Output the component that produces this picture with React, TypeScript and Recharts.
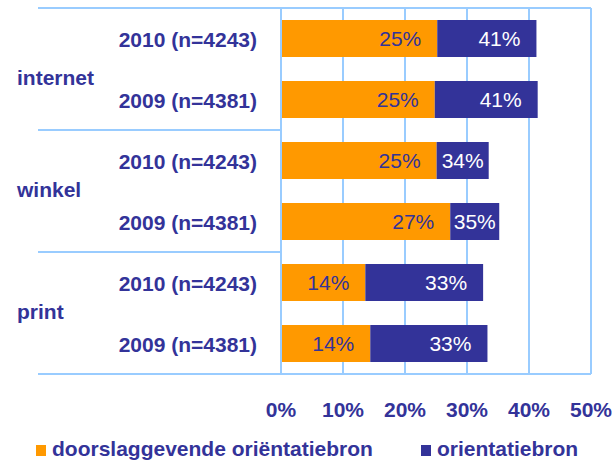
import React from 'react';
import { BarChart, Bar, XAxis, YAxis, CartesianGrid, LabelList, Legend } from 'recharts';

const groups = ['internet', 'winkel', 'print'];
const categories = [
  '2010 (n=4243)', '2009 (n=4381)',
  '2010 (n=4243)', '2009 (n=4381)',
  '2010 (n=4243)', '2009 (n=4381)',
];
const doorslaggevend = [25.2, 24.8, 25.1, 27.3, 13.6, 14.4];
const orientatieTotaal = [41.2, 41.4, 33.5, 35.2, 32.6, 33.3];
const xTicks = [0, 10, 20, 30, 40, 50];
const seriesNames = ['doorslaggevende oriëntatiebron', 'orientatiebron'];

const ORANGE = '#FF9900';
const PURPLE = '#333399';
const TEXT = '#333399';
const GRID = '#99CCFF';
const FONT = '"Liberation Sans", Arial, sans-serif';
const groupLabelDy = [16, 6, 6];

const data = categories.map((c, i) => ({
  id: `${groups[Math.floor(i / 2)]}|${c}|${i}`,
  idx: i,
  cat: c,
  door: doorslaggevend[i],
  orient: +(orientatieTotaal[i] - doorslaggevend[i]).toFixed(2),
  doorLabel: `${Math.round(doorslaggevend[i])}%`,
  orientLabel: `${Math.round(orientatieTotaal[i])}%`,
}));

const BAND = 61;

const YTick = (props: any) => {
  const { x, y, payload, index } = props;
  const i = typeof index === 'number' ? index : data.findIndex((d) => d.id === payload.value);
  const row = data[i];
  const axisX = x + 8;
  const els: any[] = [];
  els.push(
    <text key="t" x={x - 16} y={y + 8} textAnchor="end" fontFamily={FONT} fontWeight="bold" fontSize={21} fill={TEXT}>
      {row ? row.cat : ''}
    </text>
  );
  if (i % 2 === 0) {
    const g = Math.floor(i / 2);
    els.push(
      <line key="sep" x1={38} x2={i === 0 ? 591 : axisX} y1={y - BAND / 2} y2={y - BAND / 2} stroke={GRID} strokeWidth={2} />
    );
    els.push(
      <text key="g" x={17} y={y + BAND / 2 + groupLabelDy[g]} textAnchor="start" fontFamily={FONT} fontWeight="bold" fontSize={21} fill={TEXT}>
        {groups[g]}
      </text>
    );
  }
  if (i === data.length - 1) {
    els.push(
      <line key="bot" x1={38} x2={591} y1={y + BAND / 2} y2={y + BAND / 2} stroke={GRID} strokeWidth={2} />
    );
  }
  return <g>{els}</g>;
};

const XTick = (props: any) => {
  const { x, y, payload } = props;
  return (
    <text x={x} y={y + 35} textAnchor="middle" fontFamily={FONT} fontWeight="bold" fontSize={21} fill={TEXT}>
      {`${payload.value}%`}
    </text>
  );
};

const makeLabel = (color: string) => (props: any) => {
  const { x, y, width, height, value } = props;
  const wide = width >= 70;
  const tx = wide ? x + width - 16 : x + width / 2;
  return (
    <text x={tx} y={y + height / 2 + 7.5} textAnchor={wide ? 'end' : 'middle'} fontFamily={FONT} fontSize={21} fill={color}>
      {value}
    </text>
  );
};

const LegendContent = (props: any) => {
  const { payload } = props;
  return (
    <div style={{ display: 'flex', gap: 48, paddingLeft: 36, fontFamily: FONT, fontWeight: 'bold', fontSize: 21, lineHeight: '24px', color: TEXT, whiteSpace: 'nowrap' }}>
      {(payload || []).map((p: any) => (
        <span key={p.value}>
          <span style={{ display: 'inline-block', width: 10, height: 11, background: p.color, marginRight: 6, verticalAlign: 'baseline' }} />
          {p.value}
        </span>
      ))}
    </div>
  );
};

export default function App() {
  return (
    <div style={{ position: 'absolute', left: 0, top: 0, width: 612, height: 460, background: '#fff' }}>
      <BarChart
        width={612}
        height={460}
        data={data}
        layout="vertical"
        margin={{ top: 8, right: 21, bottom: 56, left: 0 }}
        barSize={37}
      >
        <CartesianGrid horizontal={false} vertical={true} stroke={GRID} strokeWidth={2} />
        <XAxis
          type="number"
          domain={[0, 50]}
          ticks={xTicks}
          axisLine={false}
          tickLine={false}
          height={30}
          tick={<XTick />}
          interval={0}
        />
        <YAxis
          type="category"
          dataKey="id"
          width={281}
          axisLine={{ stroke: GRID, strokeWidth: 2 }}
          tickLine={false}
          interval={0}
          tick={<YTick />}
        />
        <Bar dataKey="door" stackId="a" name={seriesNames[0]} fill={ORANGE} isAnimationActive={false}>
          <LabelList dataKey="doorLabel" content={makeLabel(TEXT)} />
        </Bar>
        <Bar dataKey="orient" stackId="a" name={seriesNames[1]} fill={PURPLE} isAnimationActive={false}>
          <LabelList dataKey="orientLabel" content={makeLabel('#FFFFFF')} />
        </Bar>
        <Legend
          layout="horizontal"
          verticalAlign="middle"
          align="center"
          content={<LegendContent />}
          wrapperStyle={{ position: 'absolute', top: 437, left: 0, width: 612, height: 24 }}
        />
      </BarChart>
    </div>
  );
}
